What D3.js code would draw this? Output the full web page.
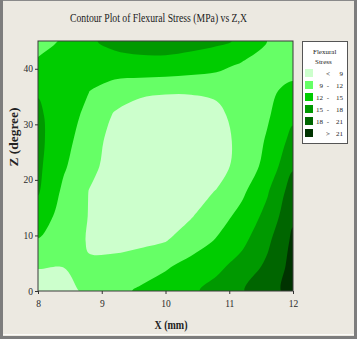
<!DOCTYPE html>
<html>
<head>
<meta charset="utf-8">
<script src="https://cdn.jsdelivr.net/npm/d3@7"></script>
<style>
  body { margin: 0; background: #ffffff; }
  svg { display: block; }
  .tick line { stroke: #333; }
</style>
</head>
<body>
<script>
// Flexural stress (MPa), grid over X (mm) and Z (degree)
var xs = [8, 8.4, 8.8, 9.2, 9.6, 10, 10.4, 10.8, 11.2, 11.6, 12];
var zs = [0, 4.5, 9, 13.5, 18, 22.5, 27, 31.5, 36, 40.5, 45];
// one row per z value, bottom (z = 0) first
var stress = [
    [7.5, 7.5, 10.0, 11.1, 12.4, 13.5, 14.5, 16.0, 17.8, 19.9, 22.0],
    [9.2, 9.1, 9.2, 9.6, 10.5, 11.6, 13.0, 14.3, 16.1, 18.6, 22.0],
    [11.8, 10.3, 8.8, 8.4, 8.4, 8.9, 10.5, 12.25, 14.3, 17.4, 21.6],
    [13.6, 10.9, 8.9, 7.8, 7.6, 7.9, 8.8, 10.65, 12.9, 15.9, 20.5],
    [15.3, 11.45, 8.95, 7.6, 7.3, 7.4, 7.9, 9.1, 11.4, 14.7, 19.5],
    [15.6, 12.4, 9.7, 8.0, 7.2, 7.0, 7.2, 7.9, 10.0, 13.0, 17.6],
    [15.7, 13.1, 10.2, 8.1, 7.2, 6.9, 7.0, 7.8, 9.8, 12.35, 16.0],
    [15.5, 13.4, 11.2, 8.7, 7.5, 7.2, 7.3, 8.1, 10.4, 11.7, 14.4],
    [14.8, 13.3, 12.05, 10.3, 9.6, 9.3, 9.3, 9.6, 10.3, 11.3, 13.0],
    [12.4, 13.4, 13.8, 14.0, 14.1, 14.0, 13.5, 12.8, 11.5, 10.6, 10.5],
    [11.3, 12.2, 14.7, 15.6, 16.1, 16.3, 16.1, 15.6, 14.6, 11.95, 10.8]
];
var levels = [9, 12, 15, 18, 21];
var levelColors = ["#ccffcc", "#66ff66", "#00cc00", "#009900", "#006600", "#003300"];
var legendRows = [["", "<", "9"], ["9", "-", "12"], ["12", "-", "15"], ["15", "-", "18"], ["18", "-", "21"], ["", ">", "21"]];
var xTicks = [8, 9, 10, 11, 12];
var zTicks = [0, 10, 20, 30, 40];

var w = 357, h = 339;
var serif = "'Liberation Serif', 'DejaVu Serif', serif";

var svg = d3.select("body").append("svg")
    .attr("width", w)
    .attr("height", h);

// window background + frame
svg.append("rect")
    .attr("x", 0).attr("y", 0)
    .attr("width", w).attr("height", h)
    .attr("fill", "#ece9e1");
svg.append("rect").attr("x", 0).attr("y", 0).attr("width", w).attr("height", 1).attr("fill", "#8a8a8a");
svg.append("rect").attr("x", 0).attr("y", 0).attr("width", 3).attr("height", h).attr("fill", "#7d7d7d");
svg.append("rect").attr("x", w - 3).attr("y", 0).attr("width", 3).attr("height", h).attr("fill", "#7d7d7d");
svg.append("rect").attr("x", 0).attr("y", h - 3).attr("width", w).attr("height", 3).attr("fill", "#7d7d7d");
svg.append("rect").attr("x", 3).attr("y", h - 5).attr("width", w - 6).attr("height", 1).attr("fill", "#fbfbf8");

// plot area
var pLeft = 38, pRight = 293, pTop = 41, pBottom = 291;
var x = d3.scaleLinear().domain([8, 12]).range([pLeft, pRight]);
var y = d3.scaleLinear().domain([0, 45]).range([pBottom, pTop]);

// contour grid index -> data value (d3.contours puts value i at i + 0.5)
var gx = d3.scaleLinear().domain([0.5, xs.length - 0.5]).range([xs[0], xs[xs.length - 1]]);
var gz = d3.scaleLinear().domain([0.5, zs.length - 0.5]).range([zs[0], zs[zs.length - 1]]);

svg.append("clipPath").attr("id", "plotclip")
    .append("rect")
    .attr("x", pLeft).attr("y", pTop)
    .attr("width", pRight - pLeft).attr("height", pBottom - pTop);

var plot = svg.append("g").attr("clip-path", "url(#plotclip)");

// lowest band as background
plot.append("rect")
    .attr("x", pLeft).attr("y", pTop)
    .attr("width", pRight - pLeft).attr("height", pBottom - pTop)
    .attr("fill", levelColors[0]);

var contours = d3.contours()
    .size([xs.length, zs.length])
    .thresholds(levels)(stress.flat());

var ringLine = d3.line()
    .x(function(p) { return x(gx(p[0])); })
    .y(function(p) { return y(gz(p[1])); })
    .curve(d3.curveCatmullRomClosed.alpha(0.5));

contours.forEach(function(c, i) {
    var d = c.coordinates.map(function(poly) {
        return poly.map(function(ring) { return ringLine(ring.slice(0, -1)); }).join("");
    }).join("");
    plot.append("path")
        .attr("d", d)
        .attr("fill", levelColors[i + 1])
        .attr("fill-rule", "evenodd");
});

// plot frame
svg.append("rect")
    .attr("x", pLeft).attr("y", pTop)
    .attr("width", pRight - pLeft).attr("height", pBottom - pTop)
    .attr("fill", "none")
    .attr("stroke", "#3a3a3a")
    .attr("stroke-width", 1);

// axes
var xAxis = svg.append("g")
    .attr("transform", "translate(0," + pBottom + ")")
    .call(d3.axisBottom(x).tickValues(xTicks).tickFormat(d3.format("d")).tickSize(3).tickPadding(6));
xAxis.select(".domain").remove();
xAxis.selectAll("text").attr("font-size", 9.5).attr("font-family", serif).attr("fill", "#2a2a2a");

var zAxis = svg.append("g")
    .attr("transform", "translate(" + pLeft + ",0)")
    .call(d3.axisLeft(y).tickValues(zTicks).tickFormat(d3.format("d")).tickSize(3).tickPadding(2));
zAxis.select(".domain").remove();
zAxis.selectAll("text").attr("font-size", 9.5).attr("font-family", serif).attr("fill", "#2a2a2a");

// title and axis labels
svg.append("text")
    .attr("x", 158.5).attr("y", 22)
    .attr("text-anchor", "middle")
    .attr("font-family", serif)
    .attr("font-size", 13)
    .attr("fill", "#222")
    .attr("textLength", 177)
    .attr("lengthAdjust", "spacingAndGlyphs")
    .text("Contour Plot of Flexural Stress (MPa) vs Z,X");

svg.append("text")
    .attr("x", 171).attr("y", 329)
    .attr("text-anchor", "middle")
    .attr("font-family", serif)
    .attr("font-weight", "bold")
    .attr("font-size", 13)
    .attr("fill", "#222")
    .attr("textLength", 33)
    .attr("lengthAdjust", "spacingAndGlyphs")
    .text("X (mm)");

svg.append("text")
    .attr("transform", "translate(18,137) rotate(-90)")
    .attr("text-anchor", "middle")
    .attr("font-family", serif)
    .attr("font-weight", "bold")
    .attr("font-size", 13)
    .attr("fill", "#222")
    .attr("textLength", 59)
    .attr("lengthAdjust", "spacingAndGlyphs")
    .text("Z (degree)");

// legend
var legend = svg.append("g");
legend.append("rect")
    .attr("x", 302.5).attr("y", 41.5)
    .attr("width", 45).attr("height", 102)
    .attr("fill", "#ffffff")
    .attr("stroke", "#555")
    .attr("stroke-width", 1);
legend.append("text")
    .attr("x", 313).attr("y", 54)
    .attr("font-family", serif).attr("font-size", 7).attr("fill", "#222")
    .text("Flexural");
legend.append("text")
    .attr("x", 315).attr("y", 64)
    .attr("font-family", serif).attr("font-size", 7).attr("fill", "#222")
    .text("Stress");

legendRows.forEach(function(r, i) {
    var cy = 73 + i * 12;
    legend.append("rect")
        .attr("x", 305).attr("y", cy - 4)
        .attr("width", 8).attr("height", 8)
        .attr("fill", levelColors[i]);
    legend.append("text")
        .attr("x", 323).attr("y", cy + 2.5)
        .attr("text-anchor", "end")
        .attr("font-family", serif).attr("font-size", 7).attr("fill", "#222")
        .text(r[0]);
    legend.append("text")
        .attr("x", 328).attr("y", cy + 2.5)
        .attr("text-anchor", "middle")
        .attr("font-family", serif).attr("font-size", 7).attr("fill", "#222")
        .text(r[1]);
    legend.append("text")
        .attr("x", 343).attr("y", cy + 2.5)
        .attr("text-anchor", "end")
        .attr("font-family", serif).attr("font-size", 7).attr("fill", "#222")
        .text(r[2]);
});
</script>
</body>
</html>
